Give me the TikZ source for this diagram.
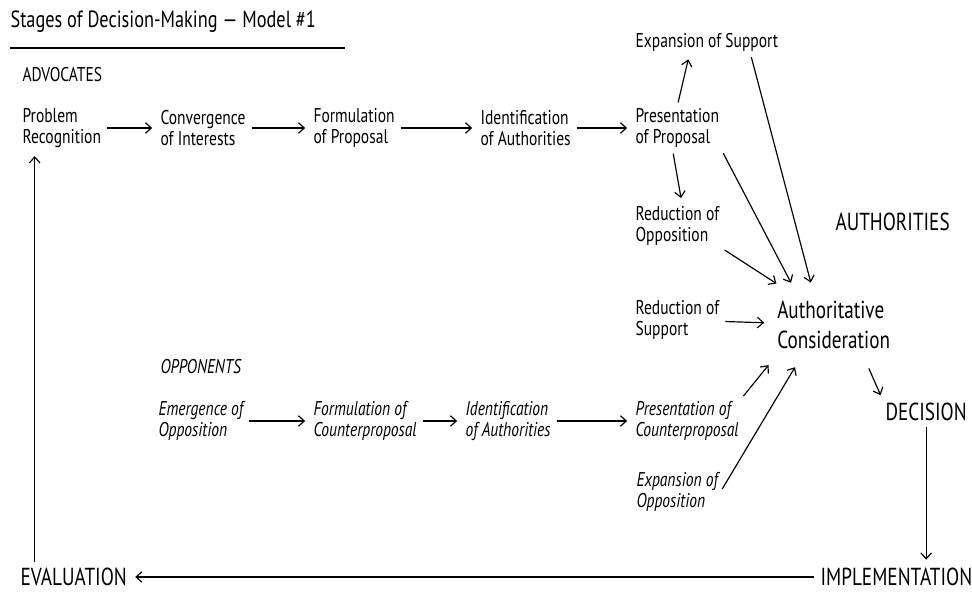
\documentclass[tikz,border=0pt]{standalone}
\usepackage{fontspec}
\setmainfont[FakeStretch=0.78]{PT Sans}
\usetikzlibrary{arrows.meta}
\tikzset{
	stage/.style={align=left, anchor=west, inner sep=2pt, font=\fontsize{17}{18}\selectfont},
	counter/.style={stage, font=\fontsize{17}{18}\selectfont\itshape},
	heading/.style={anchor=west, inner sep=2pt, font=\fontsize{21}{24}\selectfont},
	flow/.style={line width=1pt, -{Straight Barb[length=5pt,width=9pt]}, shorten <=3pt, shorten >=5pt},
}

\begin{document}
\begin{tikzpicture}[x=0.03cm, y=-0.03cm]
		%%%%% START %%%%%
		\useasboundingbox (0, 0) rectangle (972, 592);
		
		\node[heading, font=\fontsize{20}{24}\selectfont] (title) at (8, 22) {Stages of Decision-Making --- Model \#1};
		\draw[line width=1pt] (10, 48) -- (345, 48);
		
		% advocates
		\node[stage] (advocates) at (20, 75) {ADVOCATES};
		\node[stage] (prob) at (20, 128) {Problem\\Recognition};
		\node[stage] (conv) at (158, 128) {Convergence\\of Interests};
		\node[stage] (form) at (311, 128) {Formulation\\of Proposal};
		\node[stage] (ident) at (478, 128) {Identification\\of Authorities};
		\node[stage] (presprop) at (633, 128) {Presentation\\of Proposal};
		\node[stage] (expsup) at (633, 42) {Expansion of Support};
		\node[stage] (redopp) at (633, 226) {Reduction of\\Opposition};
		\node[stage] (redsup) at (633, 320) {Reduction of\\Support};
		
		\draw[flow] (prob) -- (conv);
		\draw[flow] (conv) -- (form);
		\draw[flow] (form) -- (ident);
		\draw[flow] (ident) -- (presprop);
		\draw[flow] (presprop.north) -- (expsup.-146);
		\draw[flow] ([xshift=-4pt]presprop.south) -- ([xshift=4pt]redopp.north);
		
		% authorities
		\node[heading] (authorities) at (833, 222) {AUTHORITIES};
		\node[stage, inner xsep=6pt, inner ysep=14pt, font=\fontsize{21}{25}\selectfont] (auth) at (770, 325) {Authoritative\\Consideration};
		\node[heading] (decision) at (883, 412) {DECISION};
		\node[heading] (impl) at (818, 577) {IMPLEMENTATION};
		\node[heading] (eval) at (18, 577) {EVALUATION};
		
		\draw[flow, shorten >=2pt] (redopp.south east) -- (auth.144);
		\draw[flow, shorten >=2pt] (presprop.south east) -- (auth.136);
		\draw[flow, shorten >=2pt] (expsup.-15) -- (auth.119);
		\draw[flow] (redsup) -- (auth);
		
		% opponents
		\node[counter] (opponents) at (158, 367) {OPPONENTS};
		\node[counter] (emerge) at (156, 421) {Emergence of\\Opposition};
		\node[counter] (formcp) at (311, 421) {Formulation of\\Counterproposal};
		\node[counter] (identcp) at (463, 421) {Identification\\of Authorities};
		\node[counter] (prescp) at (633, 421) {Presentation of\\Counterproposal};
		\node[counter] (expopp) at (634, 492) {Expansion of\\Opposition};
		
		\draw[flow] (emerge) -- (formcp);
		\draw[flow] (formcp) -- (identcp);
		\draw[flow] (identcp) -- (prescp);
		\draw[flow, shorten >=2pt] (prescp.north east) -- (auth.-149);
		\draw[flow, shorten >=2pt] (expopp.east) -- (auth.-133);
		
		% loop back
		\draw[flow] (auth.-50) -- (decision.north west);
		\draw[flow] (decision.south) -- (decision.south |- impl.north);
		\draw[flow] (impl) -- (eval);
		\draw[flow] ([xshift=0.5cm]eval.north west) -- ([xshift=0.5cm]eval.north west |- prob.south);
		
		%%%%% END %%%%%
	\end{tikzpicture}
\end{document}
